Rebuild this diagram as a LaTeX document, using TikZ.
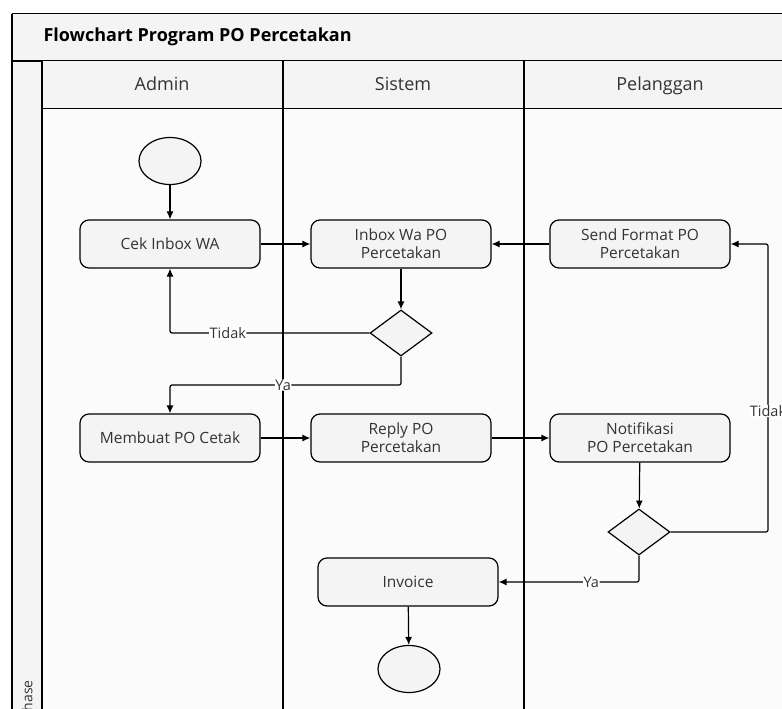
\documentclass[tikz,border=0pt]{standalone}
\usepackage{fontspec}
\setmainfont{Open Sans}
\usetikzlibrary{arrows.meta,shapes.geometric}
\definecolor{boxfill}{HTML}{F4F4F4}
\definecolor{lanefill}{HTML}{FBFBFB}
\definecolor{txt}{HTML}{333333}
\begin{document}
\begin{tikzpicture}[x=1pt, y=-1pt,
  act/.style={draw, line width=1.2pt, fill=boxfill, rounded corners=9pt, align=center, minimum width=180pt, minimum height=48pt, inner sep=2pt, font=\fontsize{15.5}{18}\selectfont, text=txt},
  term/.style={draw, line width=1.2pt, fill=boxfill, ellipse, minimum width=62pt, minimum height=47pt, inner sep=0pt},
  choice/.style={draw, line width=1.2pt, fill=boxfill, diamond, minimum width=62pt, minimum height=46pt, inner sep=0pt},
  arr/.style={-{Latex[length=8pt,width=7pt]}, line width=1.2pt, rounded corners=2pt},
  lbl/.style={fill=white, inner sep=0.5pt, font=\fontsize{14.5}{16}\selectfont, text=txt},
  lane/.style={anchor=base, font=\fontsize{18}{20}\selectfont, text=txt}
]
\useasboundingbox (0,0) rectangle (782,709);
\clip (0,0) rectangle (782,709);

% pool and lanes
\fill[lanefill] (12,14) rectangle (800,720);
\draw[line width=1pt, fill=boxfill] (12,14) rectangle (800,61);
\draw[line width=1pt, fill=boxfill] (42,61) rectangle (800,108);
\draw[line width=1.5pt, fill=boxfill] (12,61) rectangle (42,720);
\draw[line width=1.5pt] (12,14) -- (12,720);
\draw[line width=1.8pt] (283,61) -- (283,720);
\draw[line width=1.8pt] (524,61) -- (524,720);
\node[anchor=west, font=\fontsize{18}{20}\selectfont\bfseries] (title) at (40,37) {Flowchart Program PO Percetakan};
\node[lane] (admin) at (162,91) {Admin};
\node[lane] (sistem) at (403,91) {Sistem};
\node[lane] (pelanggan) at (660,91) {Pelanggan};
\node[rotate=90, anchor=east, inner sep=0pt, font=\fontsize{14}{16}\selectfont, text=txt] (phase) at (27,680) {Phase};

% activities
\node[term] (start) at (170,161) {};
\node[act] (cek) at (170,244) {Cek Inbox WA};
\node[act] (inbox) at (401,244) {Inbox Wa PO\\Percetakan};
\node[act] (send) at (640,244) {Send Format PO\\Percetakan};
\node[choice] (dec1) at (401,333) {};
\node[act] (membuat) at (170,438) {Membuat PO Cetak};
\node[act] (reply) at (401,438) {Reply PO\\Percetakan};
\node[act] (notif) at (640,438) {Notifikasi\\PO Percetakan};
\node[choice] (dec2) at (639,532) {};
\node[act] (invoice) at (408,582) {Invoice};
\node[term] (end) at (409,669) {};
\coordinate (yabend) at (401,385);
\coordinate (tdkbend) at (768,532);

\draw[arr] (start) -- (cek);
\draw[arr] (cek) -- (inbox);
\draw[arr] (send) -- (inbox);
\draw[arr] (inbox) -- (dec1);
\draw[arr] (dec1.west) -| node[lbl, pos=0.355] {Tidak} (cek.south);
\draw[arr] (dec1.south) -- (yabend) -| node[lbl, pos=0.255] {Ya} (membuat.north);
\draw[arr] (membuat) -- (reply);
\draw[arr] (reply) -- (notif);
\draw[arr] (notif) -- (dec2);
\draw[arr] (dec2.south) |- node[lbl, pos=0.67] {Ya} (invoice.east);
\draw[arr] (dec2.east) -- (tdkbend) |- node[lbl, pos=0.21] {Tidak} (send.east);
\draw[arr] (invoice) -- (end);
\end{tikzpicture}
\end{document}
